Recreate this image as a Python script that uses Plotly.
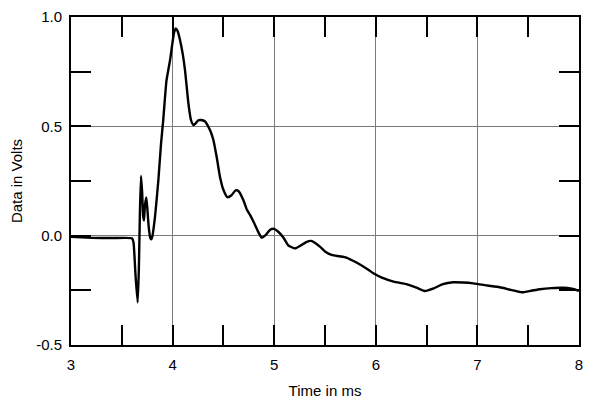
import plotly.graph_objects as go

time_ms = [3.00, 3.10, 3.20, 3.40, 3.60, 3.615, 3.635, 3.656, 3.668, 3.678, 3.689, 3.700,
           3.710, 3.718, 3.728, 3.741, 3.752, 3.765, 3.780, 3.790, 3.800, 3.827, 3.860,
           3.886, 3.908, 3.940, 3.974, 3.995, 4.015, 4.033, 4.050, 4.073, 4.100, 4.122,
           4.155, 4.180, 4.205, 4.230, 4.250, 4.280, 4.320, 4.350, 4.375, 4.400, 4.434,
           4.466, 4.500, 4.540, 4.580, 4.620, 4.650, 4.696, 4.730, 4.762, 4.800, 4.840,
           4.877, 4.920, 4.960, 4.998, 5.040, 5.090, 5.140, 5.205, 5.260, 5.320, 5.362,
           5.400, 5.450, 5.500, 5.566, 5.640, 5.710, 5.810, 5.930, 5.976, 6.060, 6.175,
           6.300, 6.400, 6.480, 6.570, 6.660, 6.760, 6.860, 6.960, 7.100, 7.220, 7.330,
           7.436, 7.530, 7.616, 7.730, 7.846, 7.930, 8.000]
volts = [-0.005, -0.008, -0.010, -0.011, -0.012, -0.03, -0.18, -0.305, -0.15, 0.10, 0.273, 0.20,
         0.09, 0.069, 0.14, 0.175, 0.12, 0.04, -0.01, -0.017, -0.005, 0.087, 0.255,
         0.42, 0.53, 0.71, 0.80, 0.87, 0.93, 0.948, 0.935, 0.895, 0.83, 0.757,
         0.607, 0.53, 0.506, 0.515, 0.527, 0.529, 0.522, 0.50, 0.475, 0.44, 0.36,
         0.27, 0.21, 0.176, 0.185, 0.207, 0.203, 0.163, 0.12, 0.095, 0.06, 0.02,
         -0.009, 0.005, 0.027, 0.031, 0.018, -0.008, -0.045, -0.058, -0.045, -0.028, -0.024,
         -0.032, -0.05, -0.072, -0.088, -0.094, -0.100, -0.123, -0.157, -0.172, -0.192, -0.210,
         -0.222, -0.238, -0.253, -0.241, -0.222, -0.213, -0.214, -0.218, -0.228, -0.236, -0.248,
         -0.259, -0.252, -0.245, -0.240, -0.238, -0.243, -0.252]

x_tickvals = [3, 4, 5, 6, 7, 8]
y_tickvals = [-0.5, 0.0, 0.5, 1.0]
y_ticktext = ["-0.5", "0.0", "0.5", "1.0"]

FONT = "Liberation Sans, Arial, Helvetica, sans-serif"

fig = go.Figure()
fig.add_trace(go.Scatter(x=time_ms, y=volts, mode="lines",
                         line=dict(color="black", width=2.4, shape="spline", smoothing=0.5),
                         showlegend=False))

axis_common = dict(
    showline=True, linecolor="black", linewidth=2, mirror="allticks",
    ticks="inside", ticklen=20, tickwidth=1.5, tickcolor="black",
    showgrid=True, gridcolor="#7a7a7a", gridwidth=1, zeroline=False,
    tickfont=dict(family=FONT, size=15, color="black"),
)

fig.update_xaxes(range=[3, 8], tickvals=x_tickvals, ticktext=[str(v) for v in x_tickvals],
                 ticklabelstandoff=5,
                 minor=dict(dtick=0.5, tick0=3, ticks="inside", ticklen=20, tickwidth=1.5,
                            tickcolor="black", showgrid=False),
                 title=dict(text="Time in ms", standoff=13,
                            font=dict(family=FONT, size=15, color="black")),
                 **axis_common)
fig.update_yaxes(range=[-0.5, 1.0], tickvals=y_tickvals, ticktext=y_ticktext,
                 ticklabelstandoff=4,
                 minor=dict(dtick=0.25, tick0=0, ticks="inside", ticklen=20, tickwidth=1.5,
                            tickcolor="black", showgrid=False),
                 title=dict(text="Data in Volts", standoff=10,
                            font=dict(family=FONT, size=15, color="black")),
                 **axis_common)

fig.update_layout(width=592, height=399, margin=dict(l=63, r=21, t=9, b=62, autoexpand=False),
                  paper_bgcolor="white", plot_bgcolor="white")

fig.write_html("out.html")
